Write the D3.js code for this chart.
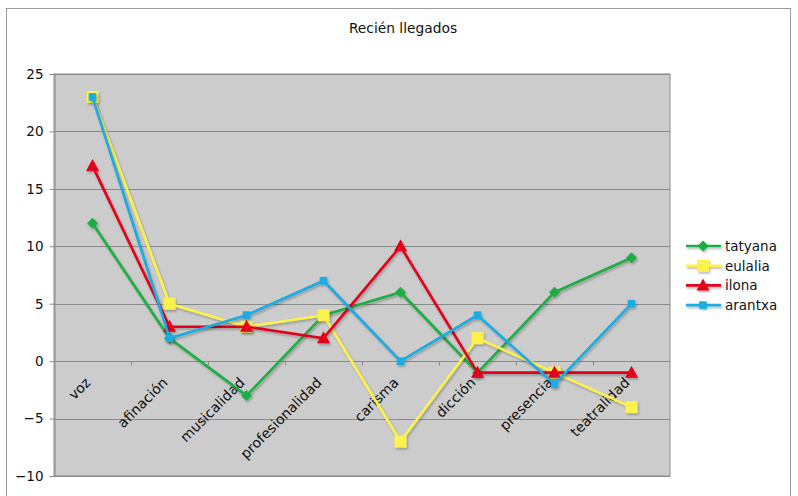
<!DOCTYPE html>
<html>
<head>
<meta charset="utf-8">
<script src="https://cdn.jsdelivr.net/npm/d3@7"></script>
<style>
  html, body { margin: 0; padding: 0; background: #fff; }
  svg { display: block; }
  text { font-family: "DejaVu Sans", Verdana, sans-serif; fill: #111; }
</style>
</head>
<body>
<svg id="chart" width="798" height="496"></svg>
<script>
// Category names (x axis)
const categories = ["voz", "afinación", "musicalidad", "profesionalidad", "carisma", "dicción", "presencia", "teatralidad"];

// One array of scores per candidate
const tatyana = [12, 2, -3, 4, 6, -1, 6, 9];
const eulalia = [23, 5, 3, 4, -7, 2, -1, -4];
const ilona   = [17, 3, 3, 2, 10, -1, -1, -1];
const arantxa = [23, 2, 4, 7, 0, 4, -2, 5];

const seriesNames = ["tatyana", "eulalia", "ilona", "arantxa"];
const yTicks = [-10, -5, 0, 5, 10, 15, 20, 25];
const title = "Recién llegados";

const series = [
  { name: seriesNames[0], values: tatyana, color: "#1cae45", marker: "diamond" },
  { name: seriesNames[1], values: eulalia, color: "#fcf24c", marker: "bigsquare" },
  { name: seriesNames[2], values: ilona,   color: "#e2001a", marker: "triangle" },
  { name: seriesNames[3], values: arantxa, color: "#1aabe3", marker: "square" }
];

const svg = d3.select("#chart");
const plot = { left: 54, right: 670, top: 74, bottom: 476 };

// drop shadow under the lines and markers
const defs = svg.append("defs");
const f = defs.append("filter").attr("id", "shadow")
  .attr("x", "-10%").attr("y", "-10%").attr("width", "130%").attr("height", "130%");
f.append("feDropShadow").attr("dx", 1.2).attr("dy", 1.8).attr("stdDeviation", 0.9)
  .attr("flood-color", "#000").attr("flood-opacity", 0.28);

// outer frame
svg.append("rect").attr("x", 6.5).attr("y", 8.5).attr("width", 784).attr("height", 500)
  .attr("fill", "#fff").attr("stroke", "#9a9a9a").attr("stroke-width", 1);

svg.append("text").attr("x", 403).attr("y", 33).attr("text-anchor", "middle")
  .style("font-size", "13.8px").text(title);

const x = d3.scaleBand().domain(categories).range([plot.left, plot.right]);
const y = d3.scaleLinear().domain([-10, 25]).range([plot.bottom, plot.top]);

// plot background
svg.append("rect").attr("x", plot.left).attr("y", plot.top)
  .attr("width", plot.right - plot.left).attr("height", plot.bottom - plot.top)
  .attr("fill", "#cccccc").attr("stroke", "#8c8c8c").attr("stroke-width", 1);

// horizontal gridlines
svg.append("g").selectAll("line").data(yTicks).join("line")
  .attr("x1", plot.left).attr("x2", plot.right)
  .attr("y1", d => Math.round(y(d)) + 0.5).attr("y2", d => Math.round(y(d)) + 0.5)
  .attr("stroke", "#8a8a8a").attr("stroke-width", 1);

// y axis
const yAxis = d3.axisLeft(y).tickValues(yTicks).tickSize(5).tickPadding(6).tickFormat(d3.format("d"));
const gy = svg.append("g").attr("transform", `translate(${plot.left + 0.5},0)`).call(yAxis);
gy.select(".domain").attr("stroke", "#8a8a8a");
gy.selectAll(".tick line").attr("stroke", "#8a8a8a");
gy.selectAll(".tick text").style("font-size", "13.5px").style("font-family", "DejaVu Sans, Verdana, sans-serif").attr("fill", "#111");

// category axis drawn along the zero line
const y0 = Math.round(y(0)) + 0.5;
const boundaries = categories.slice(1).map(c => x(c));
svg.append("g").selectAll("line").data(boundaries).join("line")
  .attr("x1", d => Math.round(d) + 0.5).attr("x2", d => Math.round(d) + 0.5)
  .attr("y1", y0).attr("y2", y0 + 4)
  .attr("stroke", "#8a8a8a");

svg.append("g").selectAll("text").data(categories).join("text")
  .attr("text-anchor", "end")
  .style("font-size", "14px")
  .attr("transform", d => `translate(${x(d) + x.bandwidth() / 2 - 1},${y0 + 22}) rotate(-45)`)
  .text(d => d);

// marker shapes
function drawMarker(g, type, color, cx, cy) {
  if (type === "diamond") {
    g.append("path").attr("d", `M${cx},${cy - 5.5}L${cx + 5.5},${cy}L${cx},${cy + 5.5}L${cx - 5.5},${cy}Z`).attr("fill", color);
  } else if (type === "bigsquare") {
    g.append("rect").attr("x", cx - 6).attr("y", cy - 6).attr("width", 12).attr("height", 12).attr("fill", color);
  } else if (type === "triangle") {
    g.append("path").attr("d", `M${cx},${cy - 7}L${cx + 6.5},${cy + 5}L${cx - 6.5},${cy + 5}Z`).attr("fill", color);
  } else {
    g.append("rect").attr("x", cx - 3.8).attr("y", cy - 3.8).attr("width", 7.6).attr("height", 7.6).attr("fill", color);
  }
}

const line = d3.line().x((d, i) => x(categories[i]) + x.bandwidth() / 2).y(d => y(d));

series.forEach(s => {
  const g = svg.append("g").attr("filter", "url(#shadow)");
  g.append("path").datum(s.values).attr("d", line)
    .attr("fill", "none").attr("stroke", s.color).attr("stroke-width", 2.6)
    .attr("stroke-linejoin", "round");
  s.values.forEach((v, i) => drawMarker(g, s.marker, s.color, x(categories[i]) + x.bandwidth() / 2, y(v)));
});

// legend
const leg = svg.append("g");
series.forEach((s, i) => {
  const cy = 246 + i * 19.7;
  const g = leg.append("g").attr("filter", "url(#shadow)");
  g.append("line").attr("x1", 686).attr("x2", 721).attr("y1", cy).attr("y2", cy)
    .attr("stroke", s.color).attr("stroke-width", 2.6);
  drawMarker(g, s.marker, s.color, 703, cy);
  leg.append("text").attr("x", 725).attr("y", cy + 4.8).style("font-size", "13.5px").text(s.name);
});
</script>
</body>
</html>
